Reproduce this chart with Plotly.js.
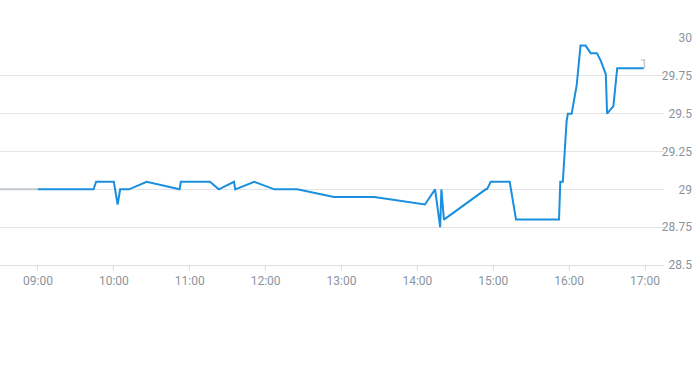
<!DOCTYPE html>
<html>
<head>
<meta charset="utf-8">
<script src="https://cdn.plot.ly/plotly-3.0.1.min.js"></script>
<style>
html,body{margin:0;padding:0;background:#fff;}
#chart{width:693px;height:365px;}
</style>
</head>
<body>
<div id="chart"></div>
<script>
// Intraday price (blue) and gray pre/post segments
const day = "2024-01-02 ";
const times = ["09:00","09:44","09:46","10:00","10:03","10:05","10:12","10:26","10:52","10:53","11:16","11:23","11:35","11:36","11:51","12:07","12:25","12:54","13:26","14:06","14:14","14:18","14:19","14:21","14:54","14:55","14:58","15:13","15:18","15:52","15:53","15:55","15:58","15:59","16:02","16:06","16:09","16:13","16:17","16:22","16:25","16:29","16:30","16:35","16:38","16:59"];
const prices = [29.0,29.0,29.05,29.05,28.9,29.0,29.0,29.05,29.0,29.05,29.05,29.0,29.05,29.0,29.05,29.0,29.0,28.95,28.95,28.9,29.0,28.75,29.0,28.8,29.0,29.0,29.05,29.05,28.8,28.8,29.05,29.05,29.45,29.5,29.5,29.69,29.95,29.95,29.9,29.9,29.85,29.76,29.5,29.55,29.8,29.8];
const preTimes = ["08:30","09:00"];
const prePrices = [29.0,29.0];
const postTimes = ["16:57:00","16:59:30","16:59:30"];
const postPrices = [29.855,29.855,29.8];
const xRange = ["08:30","17:15"];
const yTicks = [28.5,28.75,29,29.25,29.5,29.75,30];
const xTicks = ["09:00","10:00","11:00","12:00","13:00","14:00","15:00","16:00","17:00"];

const d = a => a.map(t => day + t);
const gray = "#c3c8cd";
const traces = [
  {x:d(preTimes), y:prePrices, mode:"lines", line:{color:gray,width:2}, hoverinfo:"skip"},
  {x:d(times), y:prices, mode:"lines", line:{color:"#1a8fdf",width:2}},
  {x:d(postTimes), y:postPrices, mode:"lines", line:{color:gray,width:1.5}, hoverinfo:"skip"}
];
const tickFont = {family:"Roboto, sans-serif", size:12, color:"#8a94a0"};
const layout = {
  width:693, height:365,
  margin:{l:0,r:29,t:38,b:100},
  showlegend:false,
  paper_bgcolor:"#fff", plot_bgcolor:"#fff",
  xaxis:{
    type:"date", range:d(xRange),
    tickvals:d(xTicks), ticktext:xTicks,
    showgrid:false, zeroline:false,
    showline:true, linecolor:"#dcdfe3", linewidth:1,
    ticks:"outside", ticklen:5, tickcolor:"#dcdfe3",
    tickfont:tickFont
  },
  yaxis:{
    side:"right", range:[28.5,30],
    tickvals:yTicks, ticktext:yTicks.map(String),
    showgrid:true, gridcolor:"#e3e5e8", gridwidth:1,
    zeroline:false, showline:false, ticks:"",
    tickfont:tickFont
  }
};
Plotly.newPlot("chart", traces, layout, {staticPlot:true}).then(() => {
  document.querySelectorAll(".ytick text").forEach(t => {
    t.setAttribute("text-anchor","end");
    t.setAttribute("x", 692);
  });
});
</script>
</body>
</html>
